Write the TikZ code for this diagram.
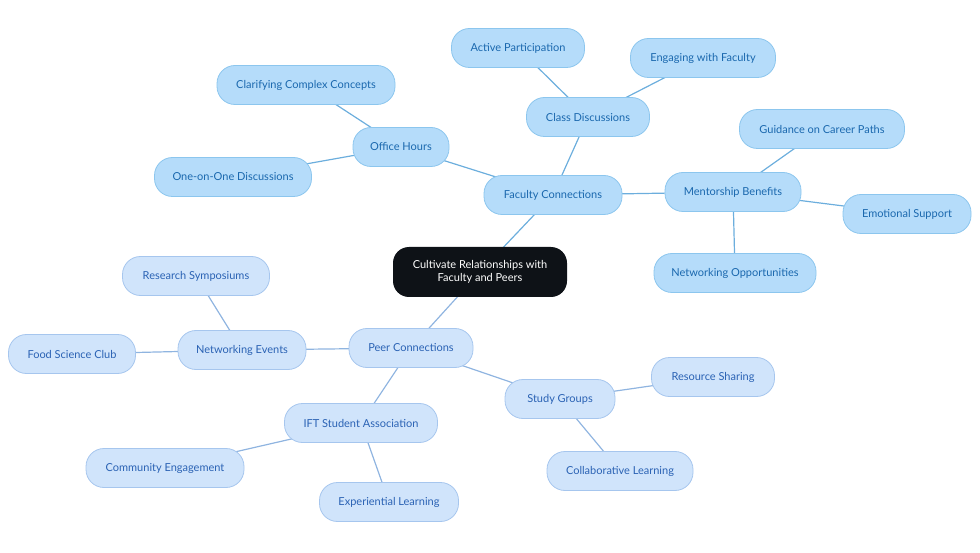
\documentclass[tikz,border=0pt]{standalone}
\usepackage{fontspec}
\setmainfont{Lato}
\usetikzlibrary{backgrounds}
\definecolor{fFill}{HTML}{B5DCFA}
\definecolor{fDraw}{HTML}{8CC6EE}
\definecolor{fText}{HTML}{1A68AE}
\definecolor{fLine}{HTML}{6CAEDD}
\definecolor{pFill}{HTML}{D0E4FB}
\definecolor{pDraw}{HTML}{A6C6EE}
\definecolor{pText}{HTML}{2A62B4}
\definecolor{pLine}{HTML}{8FB4E0}
\definecolor{cFill}{HTML}{0E1217}
\begin{document}
\begin{tikzpicture}[x=1pt,y=-1pt,
  base/.style={rounded corners=18pt, minimum height=39pt, inner sep=2pt, font=\fontsize{11}{13}\selectfont, line width=0.8pt},
  fnode/.style={base, fill=fFill, draw=fDraw, text=fText},
  pnode/.style={base, fill=pFill, draw=pDraw, text=pText},
  fedge/.style={draw=fLine, line width=1.2pt},
  pedge/.style={draw=pLine, line width=1.2pt}]
\useasboundingbox (0,0) rectangle (980,553);
\node[rounded corners=16pt, fill=cFill, text=white, minimum width=174pt, minimum height=50pt, align=center, font=\fontsize{11}{13}\selectfont] (c) at (480,272) {Cultivate Relationships with\\Faculty and Peers};
% Faculty side
\node[fnode, minimum width=138pt] (fc) at (553,195) {Faculty Connections};
\node[fnode, minimum width=123pt] (cd) at (588,117) {Class Discussions};
\node[fnode, minimum width=133pt] (ap) at (518,48) {Active Participation};
\node[fnode, minimum width=145pt] (ef) at (703,58) {Engaging with Faculty};
\node[fnode, minimum width=96pt] (oh) at (401,147) {Office Hours};
\node[fnode, minimum width=178pt] (cc) at (306,85) {Clarifying Complex Concepts};
\node[fnode, minimum width=157pt] (oo) at (233,177) {One-on-One Discussions};
\node[fnode, minimum width=136pt] (mb) at (733,192) {Mentorship Benefits};
\node[fnode, minimum width=165pt] (gc) at (822,129) {Guidance on Career Paths};
\node[fnode, minimum width=128pt] (es) at (907,214) {Emotional Support};
\node[fnode, minimum width=162pt] (no) at (735,273) {Networking Opportunities};
% Peer side
\node[pnode, minimum width=124pt] (pc) at (411,348) {Peer Connections};
\node[pnode, minimum width=128pt] (ne) at (242,350) {Networking Events};
\node[pnode, minimum width=147pt] (rs) at (196,276) {Research Symposiums};
\node[pnode, minimum width=127pt] (fs) at (72,354) {Food Science Club};
\node[pnode, minimum width=153pt] (ift) at (361,423) {IFT Student Association};
\node[pnode, minimum width=158pt] (ce) at (165,468) {Community Engagement};
\node[pnode, minimum width=139pt] (el) at (389,502) {Experiential Learning};
\node[pnode, minimum width=110pt] (sg) at (560,399) {Study Groups};
\node[pnode, minimum width=123pt] (rsh) at (713,377) {Resource Sharing};
\node[pnode, minimum width=146pt] (cl) at (620,471) {Collaborative Learning};
\begin{scope}[on background layer]
\draw[fedge] (c.center) -- (fc.center);
\draw[fedge] (fc.center) -- (cd.center);
\draw[fedge] (cd.center) -- (ap.center);
\draw[fedge] (cd.center) -- (ef.center);
\draw[fedge] (fc.center) -- (oh.center);
\draw[fedge] (oh.center) -- (cc.center);
\draw[fedge] (oh.center) -- (oo.center);
\draw[fedge] (fc.center) -- (mb.center);
\draw[fedge] (mb.center) -- (gc.center);
\draw[fedge] (mb.center) -- (es.center);
\draw[fedge] (mb.center) -- (no.center);
\draw[pedge] (c.center) -- (pc.center);
\draw[pedge] (pc.center) -- (ne.center);
\draw[pedge] (ne.center) -- (rs.center);
\draw[pedge] (ne.center) -- (fs.center);
\draw[pedge] (pc.center) -- (ift.center);
\draw[pedge] (ift.center) -- (ce.center);
\draw[pedge] (ift.center) -- (el.center);
\draw[pedge] (pc.center) -- (sg.center);
\draw[pedge] (sg.center) -- (rsh.center);
\draw[pedge] (sg.center) -- (cl.center);
\end{scope}
\end{tikzpicture}
\end{document}
